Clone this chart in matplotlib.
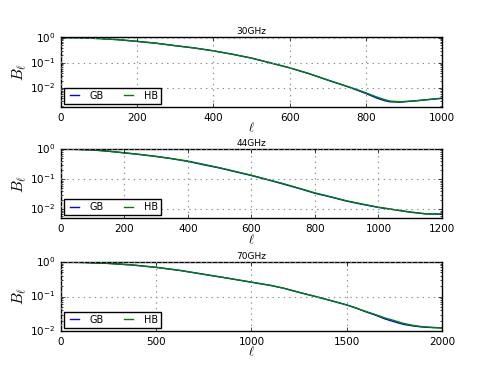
import numpy as np
import matplotlib
matplotlib.use('Agg')
import matplotlib.pyplot as plt

plt.style.use('classic')

# 30GHz
ell_30 = [0, 50, 100, 150, 200, 250, 300, 350, 400, 450, 500, 550, 600, 650, 700, 750,
          775, 800, 830, 850, 863, 890, 934, 960, 1000]
hb_30 = [1.0, 0.98, 0.92, 0.83, 0.71, 0.60, 0.48, 0.39, 0.30, 0.22, 0.155, 0.10, 0.064, 0.038, 0.021, 0.012,
         0.0090, 0.0066, 0.0044, 0.0035, 0.0031, 0.0029, 0.0032, 0.0035, 0.0040]
gb_30 = [1.0, 0.98, 0.92, 0.83, 0.71, 0.60, 0.48, 0.39, 0.30, 0.22, 0.155, 0.10, 0.064, 0.038, 0.021, 0.0118,
         0.0086, 0.0062, 0.0040, 0.0032, 0.0029, 0.0028, 0.0032, 0.0035, 0.0040]

# 44GHz
ell_44 = [0, 50, 100, 150, 200, 250, 300, 350, 400, 450, 500, 550, 600, 650, 700, 750,
          800, 850, 900, 950, 1000, 1050, 1100, 1150, 1200]
hb_44 = [1.0, 0.98, 0.94, 0.85, 0.75, 0.66, 0.57, 0.48, 0.40, 0.31, 0.24, 0.18, 0.135, 0.098, 0.071, 0.050,
         0.035, 0.026, 0.019, 0.0148, 0.0117, 0.0097, 0.0081, 0.0070, 0.0069]
gb_44 = [1.0, 0.98, 0.94, 0.85, 0.75, 0.66, 0.57, 0.48, 0.39, 0.30, 0.235, 0.176, 0.132, 0.096, 0.069, 0.049,
         0.034, 0.0255, 0.0186, 0.0145, 0.0115, 0.0096, 0.0080, 0.0070, 0.0069]

# 70GHz
ell_70 = [0, 125, 250, 375, 500, 625, 750, 875, 1000, 1100, 1167, 1250, 1342, 1425, 1500,
          1550, 1600, 1650, 1700, 1750, 1800, 1850, 1900, 1950, 2000]
hb_70 = [1.0, 0.97, 0.91, 0.82, 0.70, 0.57, 0.44, 0.34, 0.26, 0.21, 0.175, 0.132, 0.098, 0.074, 0.057,
         0.046, 0.037, 0.030, 0.024, 0.020, 0.0165, 0.0145, 0.0133, 0.0127, 0.0123]
gb_70 = [1.0, 0.97, 0.91, 0.82, 0.70, 0.57, 0.44, 0.34, 0.26, 0.21, 0.175, 0.132, 0.098, 0.074, 0.057,
         0.046, 0.036, 0.029, 0.0225, 0.0185, 0.0155, 0.0140, 0.0130, 0.0126, 0.0123]

titles = ['30GHz', '44GHz', '70GHz']
xmax = [1000, 1200, 2000]
ylims = [(0.0018, 1.05), (0.005, 1.0), (0.01, 1.0)]
xticks = [np.arange(0, 1001, 200), np.arange(0, 1201, 200), np.arange(0, 2001, 500)]
data = [(ell_30, gb_30, hb_30), (ell_44, gb_44, hb_44), (ell_70, gb_70, hb_70)]
boxes = [[0.1242, 0.7092, 0.776, 0.190],
         [0.1242, 0.4068, 0.776, 0.188],
         [0.1242, 0.1005, 0.776, 0.1875]]

fig = plt.figure(figsize=(4.91, 3.68), dpi=100, facecolor='white')
for i in range(3):
    ax = fig.add_axes(boxes[i])
    ell, gb, hb = data[i]
    ax.semilogy(ell, gb, color='b', lw=1.0, label='GB')
    ax.semilogy(ell, hb, color='g', lw=1.0, label='HB')
    ax.set_xlim(0, xmax[i])
    ax.set_ylim(*ylims[i])
    ax.set_xticks(xticks[i])
    ax.set_yticks([1e-2, 1e-1, 1e0])
    ax.grid(True, color='0.55', linestyle=':', linewidth=0.8)
    ax.tick_params(labelsize=7.5, length=3)
    ax.tick_params(which='minor', length=1.5)
    ax.set_title(titles[i], fontsize=6.5, pad=2)
    ax.set_xlabel(r'$\ell$', fontsize=9, labelpad=-1)
    ax.set_ylabel(r'$B_\ell$', fontsize=11, labelpad=1)
    ax.legend(loc='lower left', ncol=2, prop={'size': 7}, handlelength=1.5,
              handletextpad=0.8, borderpad=0.3, columnspacing=1.8, borderaxespad=0.35)

fig.savefig('out.png', dpi=100, facecolor='white')
